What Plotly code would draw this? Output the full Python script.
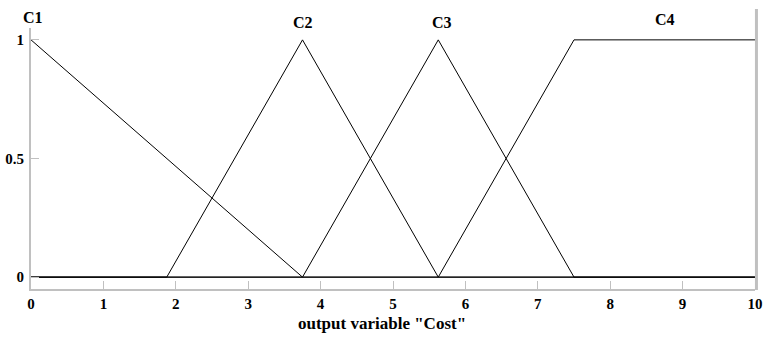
import plotly.graph_objects as go

# Membership functions of output variable "Cost"
mf_names = ["C1", "C2", "C3", "C4"]
c1_x = [0, 3.75, 10]
c1_y = [1, 0, 0]
c2_x = [0, 1.875, 3.75, 5.625, 10]
c2_y = [0, 0, 1, 0, 0]
c3_x = [0, 3.75, 5.625, 7.5, 10]
c3_y = [0, 0, 1, 0, 0]
c4_x = [0, 5.625, 7.5, 10]
c4_y = [0, 0, 1, 1]
label_x = [0.03, 3.75, 5.67, 8.76]

x_ticks = list(range(0, 11))
y_ticks = [0, 0.5, 1]
y_ticktext = ["0", "0.5", "1"]
x_title = 'output variable "Cost"'

W, H = 764, 337
L, R, T, B = 31, 9, 28, 48

fig = go.Figure()
for xs, ys in [(c1_x, c1_y), (c2_x, c2_y), (c3_x, c3_y), (c4_x, c4_y)]:
    fig.add_trace(go.Scatter(x=xs, y=ys, mode="lines",
                             line=dict(color="black", width=1),
                             hoverinfo="skip", showlegend=False))

serif = "Liberation Serif"
# label y positions in pixels from top
label_py = [17, 22, 22, 20]
for name, lx, py in zip(mf_names, label_x, label_py):
    fig.add_annotation(x=lx, xref="x", y=(H - B - py) / (H - T - B), yref="paper",
                       text=name, showarrow=False,
                       font=dict(family=serif, size=16, color="black", weight="bold"),
                       xanchor="center", yanchor="middle")

fig.add_annotation(x=(382 - L) / (W - L - R), xref="paper",
                   y=-(323 - (H - B)) / (H - T - B), yref="paper",
                   text=x_title, showarrow=False,
                   font=dict(family=serif, size=17, color="black", weight="bold"),
                   xanchor="center", yanchor="middle")

# right border line (extends above plot)
fig.add_shape(type="line", xref="paper", yref="paper", layer="above",
              x0=1.002, x1=1.002, y0=-0.004, y1=(H - B - 9) / (H - T - B),
              line=dict(color="#c0c0c0", width=3))

fig.update_layout(
    width=W, height=H,
    margin=dict(l=L, r=R, t=T, b=B, pad=0, autoexpand=False),
    paper_bgcolor="white", plot_bgcolor="white",
    font=dict(family=serif, color="black"),
)
fig.update_xaxes(range=[0, 10], tickvals=x_ticks, ticktext=[str(v) for v in x_ticks],
                 showgrid=False, zeroline=False, showline=True, linecolor="#c0c0c0",
                 linewidth=2, ticks="inside", ticklen=8, tickcolor="#c0c0c0", tickwidth=1,
                 automargin=False,
                 tickfont=dict(family=serif, size=15, color="black", weight="bold"))
fig.update_yaxes(range=[-0.05, 1.05], tickvals=y_ticks, ticktext=y_ticktext,
                 showgrid=False, zeroline=False, showline=True, linecolor="#c0c0c0",
                 linewidth=2, ticks="inside", ticklen=8, tickcolor="#c0c0c0", tickwidth=1,
                 automargin=False, ticklabelstandoff=2,
                 tickfont=dict(family=serif, size=15, color="black", weight="bold"))

fig.write_html("out.html", config={"displayModeBar": False},
               post_script="document.body.style.margin='0';document.body.style.overflow='hidden';")
